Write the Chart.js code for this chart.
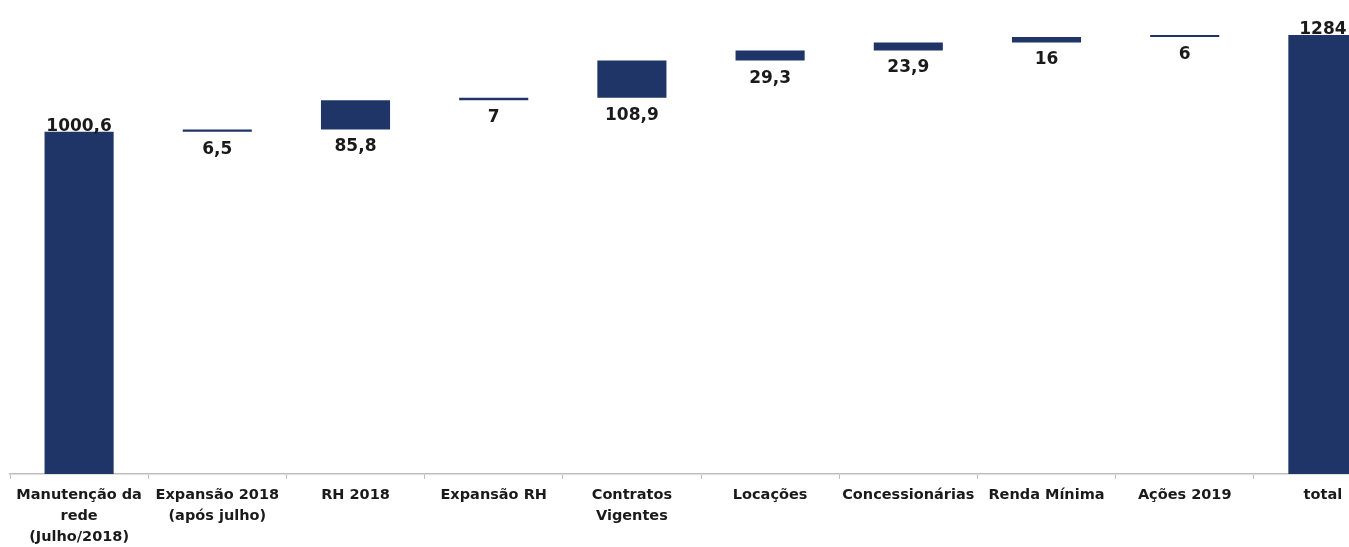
<!DOCTYPE html>
<html>
<head>
<meta charset="utf-8">
<script src="https://cdn.jsdelivr.net/npm/chart.js@4/dist/chart.umd.min.js"></script>
<style>
  html, body { margin: 0; padding: 0; background: #fff; overflow: hidden; }
  #wrap { width: 1400px; height: 554px; }
</style>
</head>
<body>
<div id="wrap"><canvas id="cht"></canvas></div>
<script>
// categorias do gráfico (multi-linha)
const categories = [
    ["Manutenção da", "rede", "(Julho/2018)"],
    ["Expansão 2018", "(após julho)"],
    "RH 2018",
    "Expansão RH",
    ["Contratos", "Vigentes"],
    "Locações",
    "Concessionárias",
    "Renda Mínima",
    "Ações 2019",
    "total"
];
// valor base, incrementos e total
const baseValue = 1000.6;
const increments = [6.5, 85.8, 7, 108.9, 29.3, 23.9, 16, 6];
const totalValue = 1284;

const barColor = "#1f3467";

// monta as barras flutuantes a partir dos valores
const ranges = [[0, baseValue]];
const labelsTxt = [baseValue];
let acc = baseValue;
increments.forEach(v => {
    ranges.push([acc, acc + v]);
    labelsTxt.push(v);
    acc += v;
});
ranges.push([0, totalValue]);
labelsTxt.push(totalValue);

const fmt = v => String(v).replace(".", ",");

const valueLabels = {
    id: "valueLabels",
    afterDatasetsDraw(chart) {
        const ctx = chart.ctx;
        const meta = chart.getDatasetMeta(0);
        ctx.save();
        ctx.font = "bold 17px 'DejaVu Sans'";
        ctx.fillStyle = "#1a1a1a";
        ctx.textAlign = "center";
        meta.data.forEach((bar, i) => {
            const txt = fmt(labelsTxt[i]);
            if (i === 0 || i === meta.data.length - 1) {
                ctx.textBaseline = "bottom";
                ctx.fillText(txt, bar.x, bar.y + 3);
            } else {
                ctx.textBaseline = "top";
                ctx.fillText(txt, bar.x, bar.base + 9);
            }
        });
        ctx.restore();
    }
};

new Chart(document.getElementById("cht"), {
    type: "bar",
    data: {
        labels: categories,
        datasets: [{
            data: ranges,
            backgroundColor: barColor,
            borderColor: barColor,
            borderWidth: 0,
            borderSkipped: false,
            minBarLength: 2,
            barPercentage: 0.5,
            categoryPercentage: 1
        }]
    },
    options: {
        responsive: true,
        maintainAspectRatio: false,
        animation: false,
        layout: { padding: { left: 10, right: 8, top: 0, bottom: 0 } },
        plugins: {
            legend: { display: false },
            tooltip: { enabled: false }
        },
        scales: {
            x: {
                grid: {
                    drawOnChartArea: false,
                    drawTicks: true,
                    tickLength: 5,
                    color: "#bfbfbf",
                    offset: true
                },
                border: { color: "#bfbfbf", width: 1.5 },
                ticks: {
                    color: "#1a1a1a",
                    font: { family: "'DejaVu Sans'", size: 14.5, weight: "bold", lineHeight: 1.45 },
                    padding: 6,
                    maxRotation: 0,
                    autoSkip: false
                }
            },
            y: {
                display: false,
                min: 0,
                max: 1386
            }
        }
    },
    plugins: [valueLabels]
});
</script>
</body>
</html>
